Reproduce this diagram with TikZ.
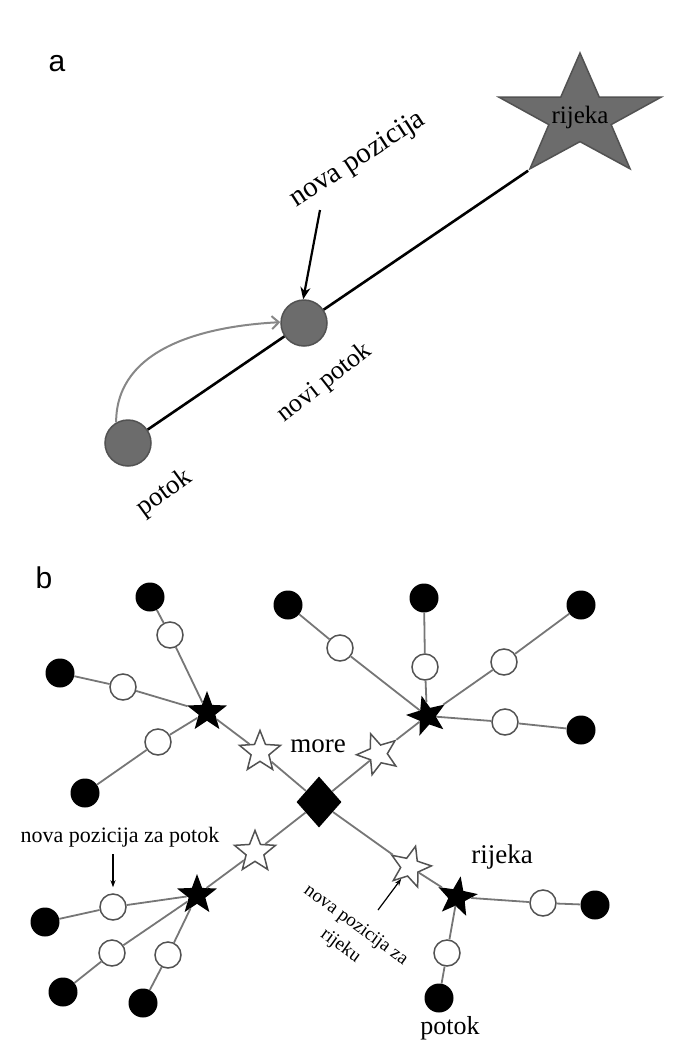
\documentclass[tikz,border=0pt]{standalone}
\usepackage{fontspec}
\setmainfont{Liberation Serif}
\newfontfamily\panelfont{Liberation Sans}
\usetikzlibrary{shapes.geometric,arrows.meta}

\definecolor{nodegray}{RGB}{108,108,108}
\definecolor{rimgray}{RGB}{82,82,82}
\definecolor{arcgray}{RGB}{135,135,135}
\definecolor{linkgray}{RGB}{118,118,118}

\tikzset{
  site/.style={circle, fill=nodegray, draw=rimgray, line width=1.5pt, minimum size=46pt, inner sep=0pt},
  riverstar/.style={star, star points=5, star point ratio=2.6, fill=nodegray, draw=rimgray, line width=1.5pt, minimum size=128pt, inner sep=0pt},
  stream/.style={line width=2.6pt},
  link/.style={draw=linkgray, line width=1.8pt},
  src/.style={circle, fill=black, minimum size=29pt, inner sep=0pt},
  mid/.style={circle, fill=white, draw=rimgray, line width=1.5pt, minimum size=26pt, inner sep=0pt},
  junc/.style={star, star points=5, star point ratio=2.4, fill=black, minimum size=42pt, inner sep=0pt},
  newjunc/.style={star, star points=5, star point ratio=2.3, fill=white, draw=rimgray, line width=1.5pt, minimum size=43pt, inner sep=0pt},
  sea/.style={diamond, fill=black, minimum width=45pt, minimum height=51pt, inner sep=0pt},
  hint/.style={line width=1.2pt, -{Stealth[length=7pt,width=5pt]}},
}

\begin{document}
\begin{tikzpicture}[x=1pt,y=-1pt]
\useasboundingbox (0,0) rectangle (689,1060);

% panel a
\node[font=\panelfont\fontsize{30}{30}\selectfont] (panela) at (57,64) {a};
\begin{scope}[shift={(580,117)},xscale=1.33]
  \node[riverstar, transform shape] (riv) at (0,0) {};
\end{scope}
\node[font=\fontsize{25}{25}\selectfont] (rivlbl) at (580,117) {rijeka};
\node[site] (old) at (128,443) {};
\node[site] (new) at (304,323) {};
\draw[stream] (old) -- (new);
\draw[stream] (new) -- (riv.outer point 3);
\draw[arcgray, line width=2pt, -{Straight Barb[length=7pt,width=13pt]}] (old.120) to[out=90,in=183] (new.178);
\node[rotate=33, font=\fontsize{29}{29}\selectfont] (movelbl) at (358,160) {nova pozicija};
\coordinate (movetail) at (320,210);
\draw[line width=2.2pt, -{Stealth[length=12pt,width=10pt]}] (movetail) -- (new.92);
\node[rotate=38, font=\fontsize{26}{26}\selectfont] (newlbl) at (325,383) {novi potok};
\node[rotate=36, font=\fontsize{27}{27}\selectfont] (oldlbl) at (165,493) {potok};

% panel b
\node[font=\panelfont\fontsize{30}{30}\selectfont] (panelb) at (44,578) {b};
\node[sea] (sea) at (319,802) {};
\node[font=\fontsize{27}{27}\selectfont] (sealbl) at (318,746) {more};

% sjeverozapad
\node[newjunc] (w1) at (260,752) {};
\node[junc] (j1) at (207,712) {};
\node[mid] (m1) at (170,635) {}; \node[src] (s1) at (150,597) {};
\node[mid] (m2) at (123,687) {}; \node[src] (s2) at (60,673) {};
\node[mid] (m3) at (158,742) {}; \node[src] (s3) at (85,793) {};

% sjeveroistok
\node[newjunc, shape border rotate=20] (w2) at (378,754) {};
\node[junc, shape border rotate=15] (j2) at (427,716) {};
\node[mid] (m4) at (340,648) {}; \node[src] (s4) at (288,605) {};
\node[mid] (m5) at (425,667) {}; \node[src] (s5) at (424,598) {};
\node[mid] (m6) at (504,662) {}; \node[src] (s6) at (581,605) {};
\node[mid] (m7) at (505,722) {}; \node[src] (s7) at (581,730) {};

% jugozapad
\node[newjunc] (w3) at (255,852) {};
\node[junc] (j3) at (197,895) {};
\node[mid] (m8) at (113,907) {}; \node[src] (s8) at (45,922) {};
\node[mid] (m9) at (112,953) {}; \node[src] (s9) at (63,992) {};
\node[mid] (m10) at (168,955) {}; \node[src] (s10) at (143,1003) {};

% jugoistok
\node[newjunc, shape border rotate=-15] (w4) at (410,867) {};
\node[junc, shape border rotate=-10] (j4) at (457,897) {};
\node[mid] (m11) at (543,903) {}; \node[src] (s11) at (595,905) {};
\node[mid] (m12) at (447,953) {}; \node[src] (s12) at (439,998) {};

\draw[link] (sea) -- (w1) -- (j1);
\draw[link] (sea) -- (w2) -- (j2);
\draw[link] (sea) -- (w3) -- (j3);
\draw[link] (sea) -- (w4) -- (j4);
\draw[link] (j1) -- (m1) -- (s1);
\draw[link] (j1) -- (m2) -- (s2);
\draw[link] (j1) -- (m3) -- (s3);
\draw[link] (j2) -- (m4) -- (s4);
\draw[link] (j2) -- (m5) -- (s5);
\draw[link] (j2) -- (m6) -- (s6);
\draw[link] (j2) -- (m7) -- (s7);
\draw[link] (j3) -- (m8) -- (s8);
\draw[link] (j3) -- (m9) -- (s9);
\draw[link] (j3) -- (m10) -- (s10);
\draw[link] (j4) -- (m11) -- (s11);
\draw[link] (j4) -- (m12) -- (s12);

\node[font=\fontsize{27}{27}\selectfont] (rivb) at (502,857) {rijeka};
\node[font=\fontsize{26}{26}\selectfont] (srcb) at (450,1028) {potok};
\node[font=\fontsize{22}{22}\selectfont] (hintp) at (120,837) {nova pozicija za potok};
\coordinate (hintptail) at (113,854);
\draw[hint, shorten >=6pt] (hintptail) -- (m8);
\node[rotate=-36, align=center, font=\fontsize{19}{26}\selectfont] (hintr) at (348,936) {nova pozicija za\\rijeku};
\coordinate (hintrtail) at (378,910);
\draw[hint] (hintrtail) -- (w4);
\end{tikzpicture}
\end{document}
